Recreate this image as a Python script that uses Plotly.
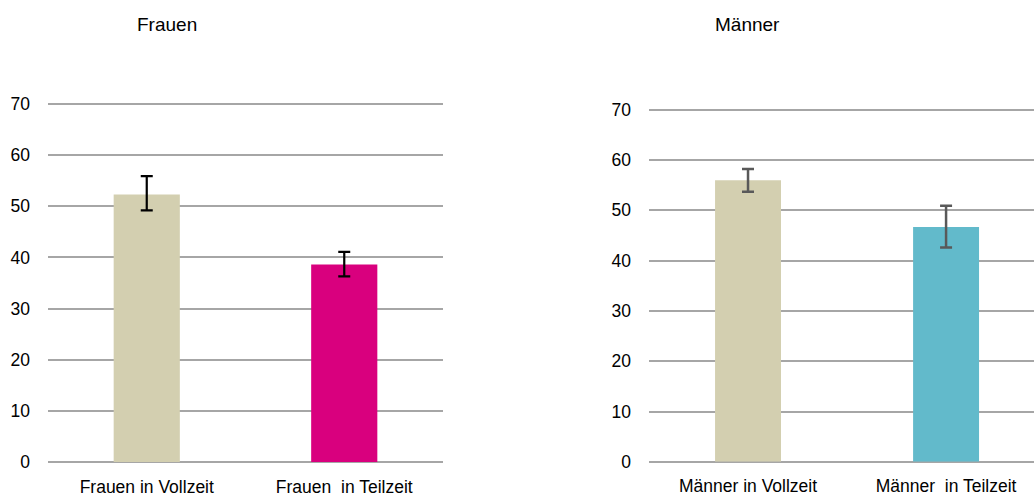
import plotly.graph_objects as go

# Werte
frauen_kat = ["Frauen in Vollzeit", "Frauen  in Teilzeit"]
frauen_wert = [52.3, 38.6]
frauen_plus = [3.6, 2.5]
frauen_minus = [3.1, 2.3]
frauen_farben = ["#D3CFB0", "#D9007E"]

maenner_kat = ["Männer in Vollzeit", "Männer  in Teilzeit"]
maenner_wert = [56.0, 46.7]
maenner_plus = [2.2, 4.2]
maenner_minus = [2.3, 4.1]
maenner_farben = ["#D3CFB0", "#62BACB"]

y_ticks = [0, 10, 20, 30, 40, 50, 60, 70]

FONT = "Liberation Sans, Arial, sans-serif"
W, H = 1034, 498

fig = go.Figure()
fig.add_trace(go.Bar(
    x=frauen_kat, y=frauen_wert, marker_color=frauen_farben, width=0.335,
    error_y=dict(type="data", symmetric=False, array=frauen_plus, arrayminus=frauen_minus,
                 color="#000000", thickness=2.2, width=6),
    xaxis="x", yaxis="y", showlegend=False))
fig.add_trace(go.Bar(
    x=maenner_kat, y=maenner_wert, marker_color=maenner_farben, width=0.333,
    error_y=dict(type="data", symmetric=False, array=maenner_plus, arrayminus=maenner_minus,
                 color="#595959", thickness=2.5, width=6),
    xaxis="x2", yaxis="y2", showlegend=False))

achse_x = dict(showgrid=False, zeroline=False, showline=False, ticks="", automargin=False,
               tickfont=dict(family=FONT, size=17.5, color="#000000"), ticklabelstandoff=12)
# Bereich etwas über 70, damit die oberste Gitterlinie gezeichnet wird
achse_y = dict(range=[0, 70.4], tickvals=y_ticks, showgrid=True, gridcolor="#A6A6A6", gridwidth=1.6,
               zeroline=True, zerolinecolor="#A6A6A6", zerolinewidth=1.6, showline=False,
               automargin=False,
               tickfont=dict(family=FONT, size=17.5, color="#000000"), ticklabelstandoff=17)

fig.update_layout(
    template="none",
    width=W, height=H, margin=dict(l=0, r=0, t=0, b=0, pad=0),
    plot_bgcolor="white", paper_bgcolor="white", bargap=0.66,
    xaxis=dict(achse_x, domain=[48 / W, 443 / W], range=[-0.5, 1.5]),
    yaxis=dict(achse_y, domain=[36 / H, 396.05 / H]),
    xaxis2=dict(achse_x, domain=[649 / W, 1.0], range=[-0.5, 1.444], anchor="y2"),
    yaxis2=dict(achse_y, domain=[36.2 / H, 390.3 / H], anchor="x2"),
    annotations=[
        dict(text="Frauen", x=167 / W, y=1 - 24 / H, xref="paper", yref="paper",
             xanchor="center", yanchor="middle",
             showarrow=False, font=dict(family=FONT, size=19, color="#000000")),
        dict(text="Männer", x=747.5 / W, y=1 - 24 / H, xref="paper", yref="paper",
             xanchor="center", yanchor="middle",
             showarrow=False, font=dict(family=FONT, size=19, color="#000000")),
    ],
)

fig.write_html("out.html", config={"displayModeBar": False},
               post_script="document.body.style.margin='0';")
